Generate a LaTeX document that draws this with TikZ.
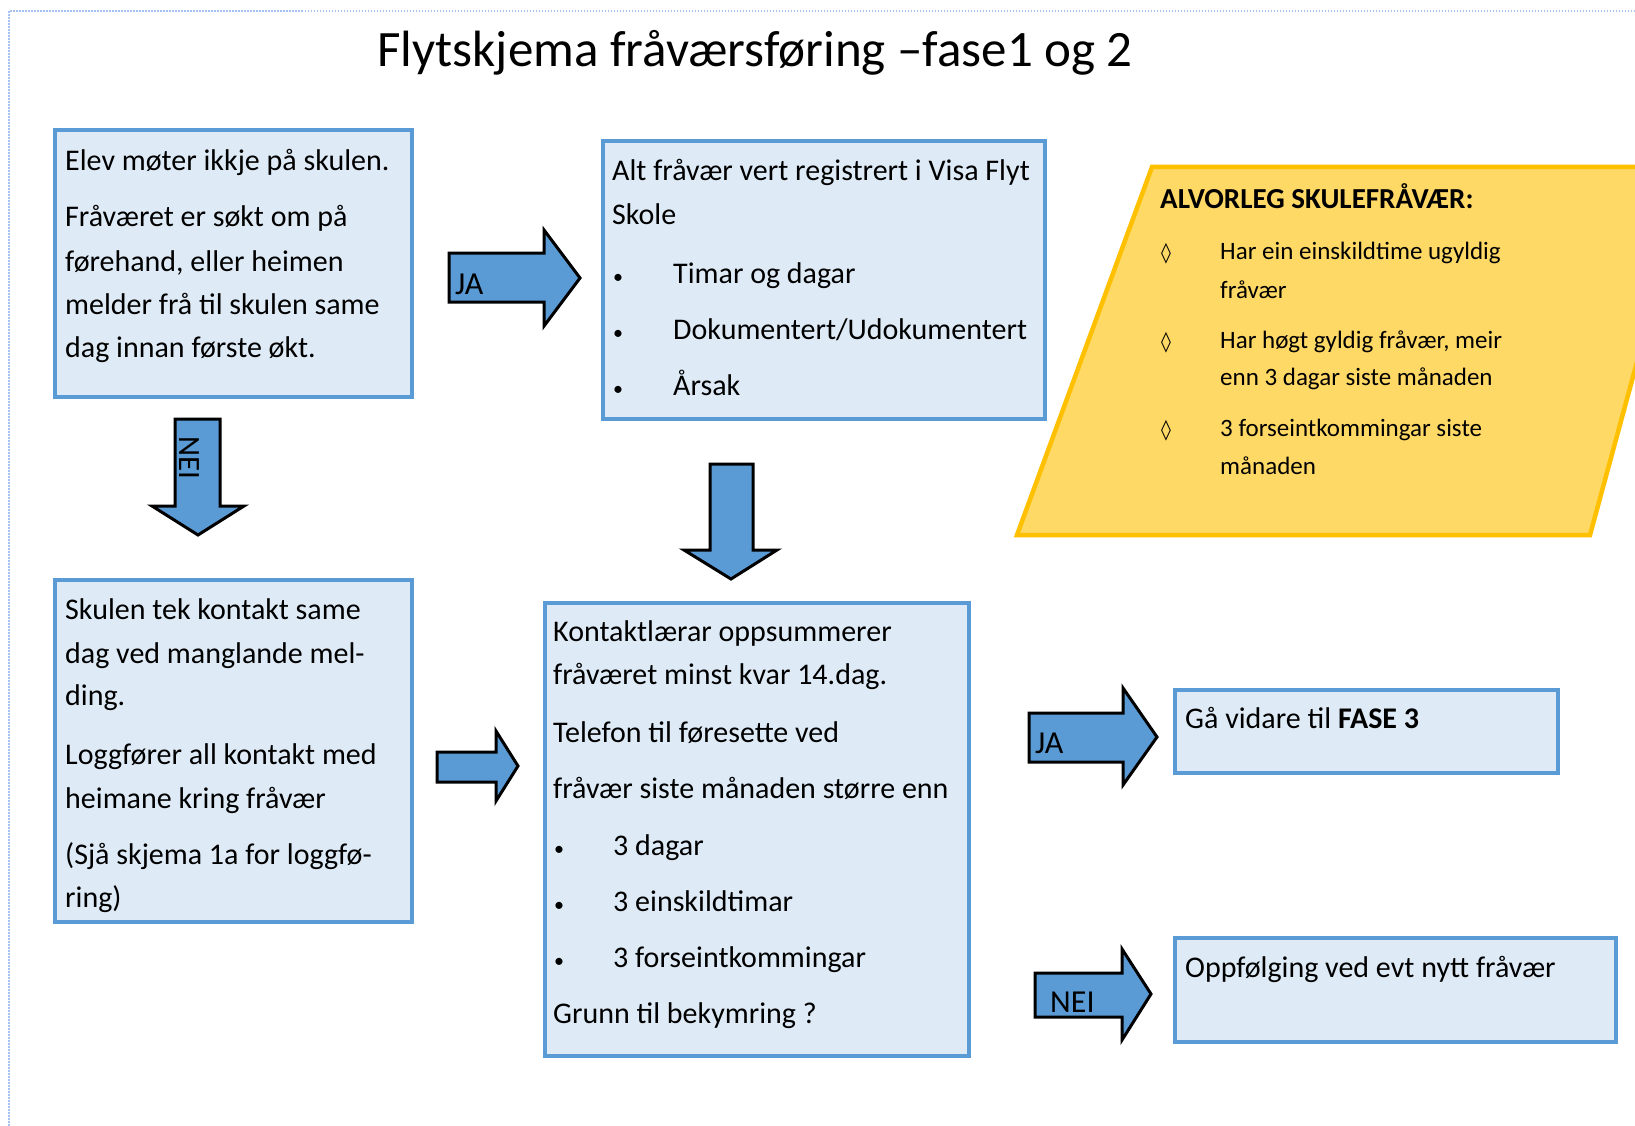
\documentclass[tikz,border=0pt]{standalone}
\usepackage{fontspec}
\setmainfont{Carlito}
\newfontfamily\symfont{DejaVu Sans}
\definecolor{boxblue}{HTML}{5B9BD5}
\definecolor{boxfill}{HTML}{DEEBF7}
\definecolor{arrowblue}{HTML}{5B9BD5}
\definecolor{goldfill}{HTML}{FFD966}
\definecolor{goldline}{HTML}{FFC000}
\definecolor{dotblue}{HTML}{A4C2F4}
\begin{document}
\begin{tikzpicture}[x=1pt,y=-1pt,
  box/.style={draw=boxblue, line width=4.5pt, fill=boxfill, anchor=north west, inner sep=0pt, outer sep=0pt},
  txt/.style={anchor=base west, inner sep=0pt, font=\fontsize{30}{36}\selectfont},
  bul/.style={anchor=base west, inner sep=0pt, font=\fontsize{20}{24}\selectfont},
  ytxt/.style={anchor=base west, inner sep=0pt, font=\fontsize{25}{30}\selectfont},
  barrow/.style={draw=black, line width=3pt, fill=arrowblue, line join=miter},
  alabel/.style={anchor=base west, inner sep=0pt, font=\fontsize{32}{36}\selectfont}
]
\useasboundingbox (0,0) rectangle (1635,1126);
\fill[white] (0,0) rectangle (1635,1126);
% dotted page frame
\draw[dotblue, line width=1.5pt, dash pattern=on 1.5pt off 1.5pt] (1635,11) -- (9,11) -- (9,1126);

% title
\node[anchor=base, inner sep=0pt, font=\fontsize{51}{60}\selectfont] (title) at (755,67) {Flytskjema fråværsføring –fase1 og 2};

% boxes
\node[box, minimum width=357pt, minimum height=267pt] (b1) at (55,130) {};
\node[box, minimum width=442pt, minimum height=278pt] (b2) at (603,141) {};
\node[box, minimum width=357pt, minimum height=342pt] (b3) at (55,580) {};
\node[box, minimum width=424pt, minimum height=453pt] (b4) at (545,603) {};
\node[box, minimum width=383pt, minimum height=83pt] (b5) at (1175,690) {};
\node[box, minimum width=441pt, minimum height=104pt] (b6) at (1175,938) {};

% quadrilateral
\begin{scope}
\clip (0,0) rectangle (1635,1126);
\draw[draw=goldline, line width=4.5pt, fill=goldfill, line join=miter] (1152,167) -- (1690,167) -- (1590,535) -- (1017,535) -- cycle;
\end{scope}

% box 1 text
\node[txt] (t1a) at (65,171) {Elev møter ikkje på skulen.};
\node[txt] (t1b) at (65,226) {Fråværet er søkt om på};
\node[txt] (t1c) at (65,271) {førehand, eller heimen};
\node[txt] (t1d) at (65,314) {melder frå til skulen same};
\node[txt] (t1e) at (65,357) {dag innan første økt.};

% box 2 text
\node[txt] (t2a) at (612,181) {Alt fråvær vert registrert i Visa Flyt};
\node[txt] (t2b) at (612,225) {Skole};
\node[bul] (u2c) at (613,283) {•};
\node[txt] (t2c) at (673,283) {Timar og dagar};
\node[bul] (u2d) at (613,339) {•};
\node[txt] (t2d) at (673,339) {Dokumentert/Udokumentert};
\node[bul] (u2e) at (613,395) {•};
\node[txt] (t2e) at (673,395) {Årsak};

% box 3 text
\node[txt] (t3a) at (65,619) {Skulen tek kontakt same};
\node[txt] (t3b) at (65,663) {dag ved manglande mel-};
\node[txt] (t3c) at (65,705) {ding.};
\node[txt] (t3d) at (65,764) {Loggfører all kontakt med};
\node[txt] (t3e) at (65,808) {heimane kring fråvær};
\node[txt] (t3f) at (65,864) {(Sjå skjema 1a for loggfø-};
\node[txt] (t3g) at (65,907) {ring)};

% box 4 text
\node[txt] (t4a) at (553,641) {Kontaktlærar oppsummerer};
\node[txt] (t4b) at (553,684) {fråværet minst kvar 14.dag.};
\node[txt] (t4c) at (553,742) {Telefon til føresette ved};
\node[txt] (t4d) at (553,798) {fråvær siste månaden større enn};
\node[bul] (u4e) at (554,855) {•};
\node[txt] (t4e) at (613,855) {3 dagar};
\node[bul] (u4f) at (554,911) {•};
\node[txt] (t4f) at (613,911) {3 einskildtimar};
\node[bul] (u4g) at (554,967) {•};
\node[txt] (t4g) at (613,967) {3 forseintkommingar};
\node[txt] (t4h) at (553,1023) {Grunn til bekymring ?};

% box 5 / 6 text
\node[txt] (t5) at (1185,728) {Gå vidare til \textbf{FASE 3}};
\node[txt] (t6) at (1185,977) {Oppfølging ved evt nytt fråvær};

% quadrilateral text
\node[anchor=base west, inner sep=0pt, font=\fontsize{29}{32}\selectfont\bfseries] (ph) at (1160,208) {ALVORLEG SKULEFRÅVÆR:};
\node[ytxt, font=\symfont\fontsize{20}{24}\selectfont] (d1) at (1161,259) {◊};
\node[ytxt] (p1a) at (1220,259) {Har ein einskildtime ugyldig};
\node[ytxt] (p1b) at (1220,298) {fråvær};
\node[ytxt, font=\symfont\fontsize{20}{24}\selectfont] (d2) at (1161,348) {◊};
\node[ytxt] (p2a) at (1220,348) {Har høgt gyldig fråvær, meir};
\node[ytxt] (p2b) at (1220,385) {enn 3 dagar siste månaden};
\node[ytxt, font=\symfont\fontsize{20}{24}\selectfont] (d3) at (1161,436) {◊};
\node[ytxt] (p3a) at (1220,436) {3 forseintkommingar siste};
\node[ytxt] (p3b) at (1220,474) {månaden};

% block arrows
\draw[barrow] (449,253) -- (544,253) -- (544,230) -- (580,278) -- (544,326) -- (544,302) -- (449,302) -- cycle;
\node[alabel] (la) at (455,294) {JA};
\draw[barrow] (175,419) -- (220,419) -- (220,506) -- (244,506) -- (198,535) -- (152,506) -- (175,506) -- cycle;
\node[inner sep=0pt, rotate=-90, font=\fontsize{31}{34}\selectfont] (lb) at (189,458) {NEI};
\draw[barrow] (710,464) -- (753,464) -- (753,550) -- (777,550) -- (731,579) -- (684,550) -- (710,550) -- cycle;
\draw[barrow] (437,752) -- (496,752) -- (496,731) -- (518,766) -- (496,801) -- (496,782) -- (437,782) -- cycle;
\draw[barrow] (1029,713) -- (1123,713) -- (1123,688) -- (1157,737) -- (1123,785) -- (1123,762) -- (1029,762) -- cycle;
\node[alabel] (le) at (1035,753) {JA};
\draw[barrow] (1035,973) -- (1122,973) -- (1122,949) -- (1151,994) -- (1122,1040) -- (1122,1017) -- (1035,1017) -- cycle;
\node[alabel] (lf) at (1050,1012) {NEI};
\end{tikzpicture}
\end{document}
